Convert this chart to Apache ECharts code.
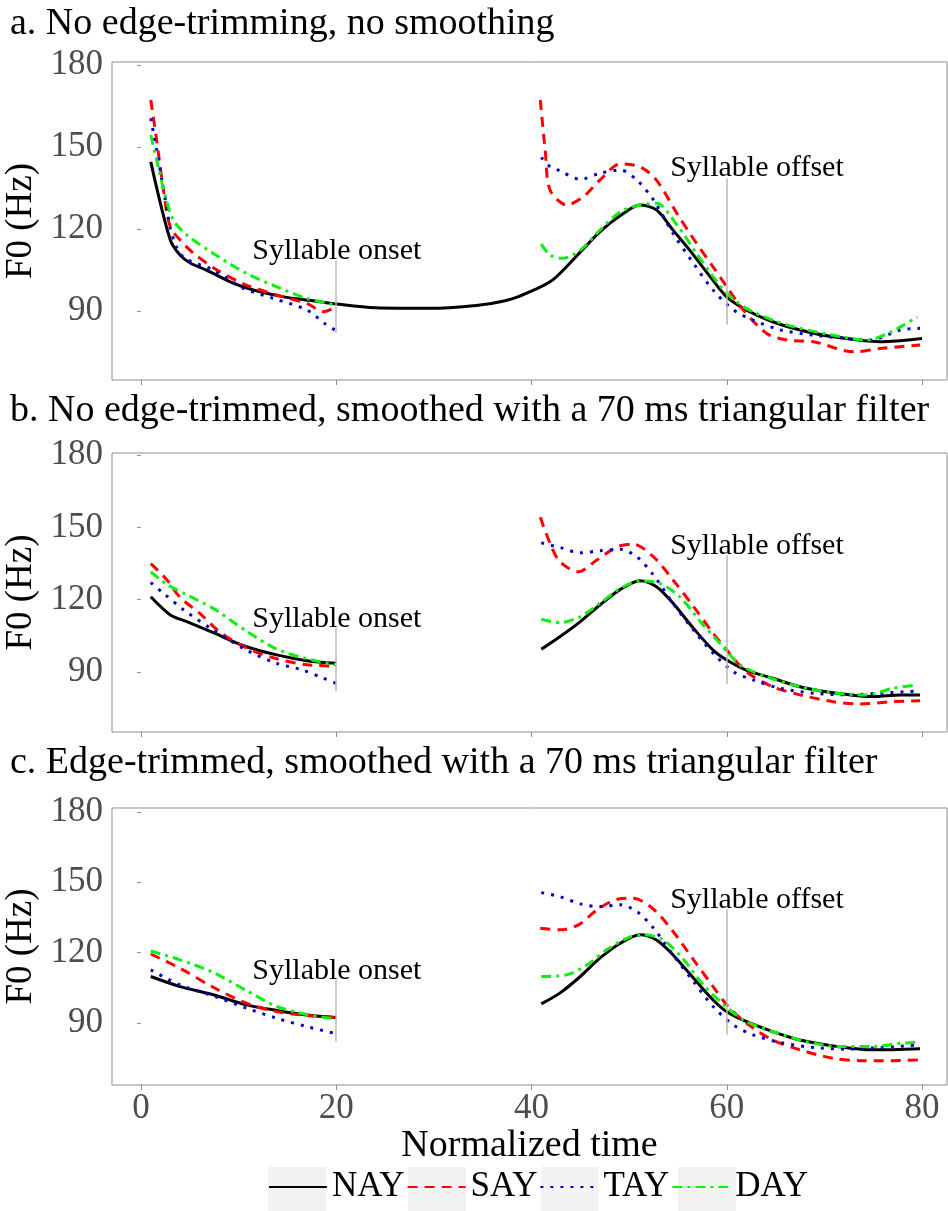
<!DOCTYPE html>
<html>
<head>
<meta charset="utf-8">
<script src="https://cdn.jsdelivr.net/npm/echarts@6/dist/echarts.min.js"></script>
<style>
  html, body { margin: 0; padding: 0; background: #fff; }
  #chart { width: 948px; height: 1211px; }
</style>
</head>
<body>
<div id="chart"></div>
<script>
// series names and tick labels
const names = ['NAY', 'SAY', 'TAY', 'DAY']
const xTicks = [0, 20, 40, 60, 80]
const yTicks = [90, 120, 150, 180]
const titles = [
  'a. No edge-trimming, no smoothing',
  'b. No edge-trimmed, smoothed with a 70 ms triangular filter',
  'c. Edge-trimmed, smoothed with a 70 ms triangular filter'
]

// annotation lines (F0 range of the grey markers) and label anchors
const onsetLine = [82, 108.5]
const offsetLine = [85, 138.5]
const onsetLabel = [11.4, 112]
const offsetLabel = [54.2, 142.4]

// panel a: no trimming, no smoothing  [normalized time, F0]
const nayA = [[1,144.6],[3,116],[4,110.5],[5,107.7],[6.7,105],[9.5,100.1],[11.5,97.7],[14.6,95.2],[17.6,93.8],[20,92.6],[24,91.2],[29.6,91],[34.7,92.2],[36.8,93.4],[38.8,95.5],[41.9,100.7],[43.9,107.4],[47,119],[49.4,125.7],[51.1,128.8],[52.8,127],[54.5,119.6],[56.2,112.3],[58.3,102.6],[60,95.2],[62,90.4],[64.7,86.1],[67.5,83.1],[70.9,80.6],[75.7,78.8],[80,80]]
const sayAOn = [[1,167.2],[1.6,152.6],[2.3,134.3],[3,120.8],[4,116],[5.4,111.1],[7.8,105],[10.8,99.5],[13.9,95.9],[17,92.8],[18.7,89.8],[20,91.6]]
const sayAOff = [[40.9,167.2],[41.4,148.9],[41.9,134.3],[43.6,128.8],[45.3,131.8],[47,137.9],[49.1,143.8],[51.1,142.8],[52.8,137.9],[54.9,125.7],[56.9,114.8],[58.6,106.2],[60,98.9],[61.7,90.4],[64.1,81.8],[66.2,79.4],[68.9,78.8],[73,75.1],[75.7,76.3],[79.8,77.6]]
const tayAOn = [[1,160.5],[1.6,148.9],[2.5,130.6],[3,120.3],[3.7,112.9],[4.5,109.3],[7.4,105],[10.5,98.3],[13.6,94.6],[17,90.4],[18.8,85.5],[20,82.8]]
const tayAOff = [[41,146.2],[41.9,142.8],[42.9,141.3],[45,138.2],[47,140.4],[49.1,141.6],[50.8,137.9],[52.5,130.6],[54.5,118.4],[56.6,107.4],[58.6,97.7],[60.7,90.4],[62.7,86.7],[65.5,83.1],[68.9,81.2],[72.3,80],[74.7,79.4],[77.8,83.1],[79.8,83.7]]
const dayAOn = [[1,154.4],[1.6,145.3],[2.6,130.6],[3.3,123.3],[4.7,117.8],[7.4,111.1],[10.8,103.8],[13.9,98.9],[17,94.6],[20,92.2]]
const dayAOff = [[41,114.5],[41.9,110.5],[43.2,109.3],[45,112.3],[47,119.6],[49.1,126.3],[51.1,128.8],[52.8,129.4],[54.9,121.5],[56.9,111.1],[58.6,102.6],[60,96.5],[62,91],[64.7,86.7],[67.5,83.7],[70.9,81.2],[74.3,79.4],[76.5,81.8],[79.5,87.8]]

// panel b: no trimming, 70 ms triangular smoothing
const nayBOn = [[1,121.2],[3,113.7],[4.7,110.9],[7.4,106.3],[10.8,100.5],[13.9,97.1],[17,94.7],[20,93.6]]
const nayBOff = [[41,99.4],[42.9,104.6],[45,110.9],[47,117.8],[49.1,124.3],[51.1,127.9],[52.8,125.4],[54.5,118.5],[56.6,108.1],[58.6,99.1],[60,95],[62,90.8],[64.7,87.4],[67.5,83.9],[70.9,81.4],[75,79.8],[77.8,80.5],[79.8,80.5]]
const sayBOn = [[1,135],[2.6,128.5],[4,121],[6,114.4],[8.1,106.5],[10.8,100],[13.9,95.5],[17,93],[20,92.5]]
const sayBOff = [[40.9,154.2],[41.9,143.4],[42.9,135.8],[44.8,131.6],[46.7,136.5],[48.8,142],[50.4,143.1],[52.5,137.8],[54.5,128.2],[56.6,117.1],[58.6,106.1],[60,99.1],[62,90.1],[64.7,83.9],[67.5,80.5],[70.9,77.7],[73.6,76.7],[77,77.7],[79.8,78.1]]
const tayBOn = [[1,127.1],[2.3,122.7],[4.4,115.7],[7.4,107.4],[10.8,99.1],[13.9,93.6],[16.6,90.8],[18.7,87.4],[20,85.3]]
const tayBOff = [[41,143.6],[42.9,141.7],[45,139.5],[47,140.3],[49.1,140.9],[50.8,137.8],[52.5,130.2],[54.5,118.5],[56.6,107.4],[58.6,97.8],[60.7,90.1],[62.7,86.7],[65.5,83.2],[68.9,81.2],[72.3,80.5],[75.7,81.2],[79.8,82.2]]
const dayBOn = [[1,131.6],[2.6,126.5],[4.7,122],[7.4,116.4],[10.8,107],[13.9,99.5],[17,95.5],[20,92.9]]
const dayBOff = [[41,111.9],[42.9,110.5],[45,113],[47,118.5],[49.1,124.7],[51.1,127.8],[53.1,126.8],[55.2,121.2],[57.3,110.9],[59.3,101.9],[61.4,92.9],[64.1,88],[67.5,83.9],[70.9,81.4],[74.3,80.5],[77,83.2],[79.4,84.6]]

// panel c: edge-trimmed, 70 ms triangular smoothing
const nayCOn = [[1,109.8],[4,105.5],[7.4,102],[10.8,97.7],[13.9,95.3],[17,93.4],[20,92.3]]
const nayCOff = [[41,98.1],[42.9,102.7],[45,109.8],[47,117.6],[49.1,124],[51.1,127.6],[52.8,125.4],[54.5,119],[56.6,109.1],[58.6,99.8],[60,94.8],[62,90.6],[64.7,86.3],[67.5,82.7],[70.9,80.2],[75,78.5],[79.8,79]]
const sayCOn = [[1,119.4],[4,113.3],[7.4,105.2],[10.8,98.4],[13.9,94.8],[17,93.2],[20,92.3]]
const sayCOff = [[40.9,130.4],[42.9,129.7],[44.8,131.8],[46.7,138.2],[48.8,142.8],[50.4,143.2],[52.5,138.5],[54.5,129],[56.6,116.9],[58.6,105.5],[60,97.7],[62,89.9],[64.7,82.7],[67.5,78.5],[70.9,74.9],[73.6,73.9],[77,73.9],[79.8,74.2]]
const tayCOn = [[1,112.6],[4,106.2],[7.4,101.5],[10.8,96.3],[13.9,92],[17,88.4],[19.8,85.6]]
const tayCOff = [[41,145.6],[42.9,143.9],[45,140.8],[47,139.6],[49.1,140.4],[50.8,137.5],[52.5,130.4],[54.5,119],[56.6,107.6],[58.6,97],[60.7,89.1],[62.7,84.9],[65.5,81.6],[68.9,79.5],[72.3,78.8],[75.7,79.5],[79.8,80.6]]
const dayCOn = [[1,120.7],[4,116.9],[7.4,111.5],[10.8,103.8],[13.9,97],[17,93.6],[20,91.6]]
const dayCOff = [[41,109.8],[43.6,110.5],[45.7,114.8],[47.7,121.2],[49.8,126.2],[51.4,127.6],[53.5,125.4],[55.6,116.9],[57.6,106.2],[59.7,97.7],[61.7,91.3],[64.7,86.3],[68.2,82],[71.6,79.9],[75,79.9],[77.8,81.3],[79.4,81.6]]

// join onset and offset parts with a gap so the line breaks between them
function withGap(on, off) {
  return on.concat([[30, null]], off)
}

const panelData = [
  [nayA, withGap(sayAOn, sayAOff), withGap(tayAOn, tayAOff), withGap(dayAOn, dayAOff)],
  [withGap(nayBOn, nayBOff), withGap(sayBOn, sayBOff), withGap(tayBOn, tayBOff), withGap(dayBOn, dayBOff)],
  [withGap(nayCOn, nayCOff), withGap(sayCOn, sayCOff), withGap(tayCOn, tayCOff), withGap(dayCOn, dayCOff)]
]

const font = 'Liberation Serif'
const colors = ['#000000', '#ff0000', '#0000cc', '#11ee11']
const dashes = ['solid', [10, 7], [3, 7], [10, 5, 3, 5]]
const frame = '#8f8f8f'

// layout of the three panels
const panels = [
  { top: 62, height: 318, yMin: 64.8, yMax: 181.1, titleTop: 5 },
  { top: 453, height: 279, yMin: 65.1, yMax: 180.9, titleTop: 392 },
  { top: 808, height: 277, yMin: 63.5, yMax: 181.7, titleTop: 744 }
]

const chart = echarts.init(document.getElementById('chart'), null, { renderer: 'canvas' })

const series = []
panels.forEach((p, i) => {
  names.forEach((n, k) => {
    const s = {
      name: n,
      type: 'line',
      xAxisIndex: i,
      yAxisIndex: i,
      data: panelData[i][k],
      symbol: 'none',
      showSymbol: false,
      smooth: 0.3,
      connectNulls: false,
      animation: false,
      lineStyle: { color: colors[k], width: 3, type: dashes[k] },
      itemStyle: { color: colors[k] }
    }
    if (k === 0) {
      s.markLine = {
        silent: true,
        symbol: 'none',
        animation: false,
        label: { show: false },
        lineStyle: { color: '#b8b8b8', width: 1.5, type: 'solid' },
        data: [
          [{ coord: [20, onsetLine[0]] }, { coord: [20, onsetLine[1]] }],
          [{ coord: [60, offsetLine[0]] }, { coord: [60, offsetLine[1]] }]
        ]
      }
      s.markPoint = {
        silent: true,
        symbol: 'circle',
        symbolSize: 0,
        animation: false,
        label: {
          show: true,
          position: 'inside',
          align: 'left',
          verticalAlign: 'middle',
          formatter: '{b}',
          color: '#000',
          fontSize: 30,
          fontFamily: font
        },
        data: [
          { name: 'Syllable onset', coord: onsetLabel },
          { name: 'Syllable offset', coord: offsetLabel }
        ]
      }
    }
    series.push(s)
  })
})

// grey key backgrounds behind the legend symbols
const keyX = [268, 408, 541, 678]

const option = {
  backgroundColor: '#fff',
  animation: false,
  grid: panels.map(p => ({
    left: 112,
    right: 1,
    top: p.top,
    height: p.height,
    outerBoundsMode: 'none',
    containLabel: false,
    show: true,
    borderColor: frame,
    borderWidth: 1
  })),
  xAxis: panels.map((p, i) => ({
    gridIndex: i,
    type: 'value',
    min: -2.97,
    max: 82.56,
    splitLine: { show: false },
    axisLine: { show: false },
    axisTick: { show: true, customValues: xTicks, length: 5, lineStyle: { color: frame } },
    axisLabel: {
      show: i === 2,
      customValues: xTicks,
      margin: 6,
      fontSize: 35,
      color: '#4d4d4d',
      fontFamily: font
    },
    name: i === 2 ? 'Normalized time' : '',
    nameLocation: 'middle',
    nameGap: 39,
    nameTextStyle: { fontSize: 38, color: '#000', fontFamily: font }
  })),
  yAxis: panels.map((p, i) => ({
    gridIndex: i,
    type: 'value',
    min: p.yMin,
    max: p.yMax,
    splitLine: { show: false },
    axisLine: { show: false },
    axisTick: { show: true, customValues: yTicks, length: 4, lineStyle: { color: frame } },
    axisLabel: {
      customValues: yTicks,
      margin: 9,
      fontSize: 35,
      color: '#4d4d4d',
      fontFamily: font
    },
    name: 'F0 (Hz)',
    nameLocation: 'middle',
    nameRotate: 90,
    nameGap: 38,
    nameTextStyle: { fontSize: 37, color: '#000', fontFamily: font }
  })),
  legend: {
    data: names,
    left: 268,
    top: 1167,
    itemWidth: 58,
    itemHeight: 50,
    itemGap: 2,
    padding: 0,
    itemStyle: { opacity: 0 },
    textStyle: { fontSize: 35, color: '#000', fontFamily: font }
  },
  graphic: [
    ...titles.map((t, i) => ({
      type: 'text',
      left: 10,
      top: panels[i].titleTop,
      style: { text: t, fontSize: 38, fontFamily: font, fill: '#000' }
    })),
    ...keyX.map(x => ({
      type: 'rect',
      left: x,
      top: 1167,
      z: 0,
      shape: { width: 58, height: 50 },
      style: { fill: '#f2f2f2' }
    }))
  ],
  series
}

chart.setOption(option)
window.addEventListener('resize', () => chart.resize())
</script>
</body>
</html>
